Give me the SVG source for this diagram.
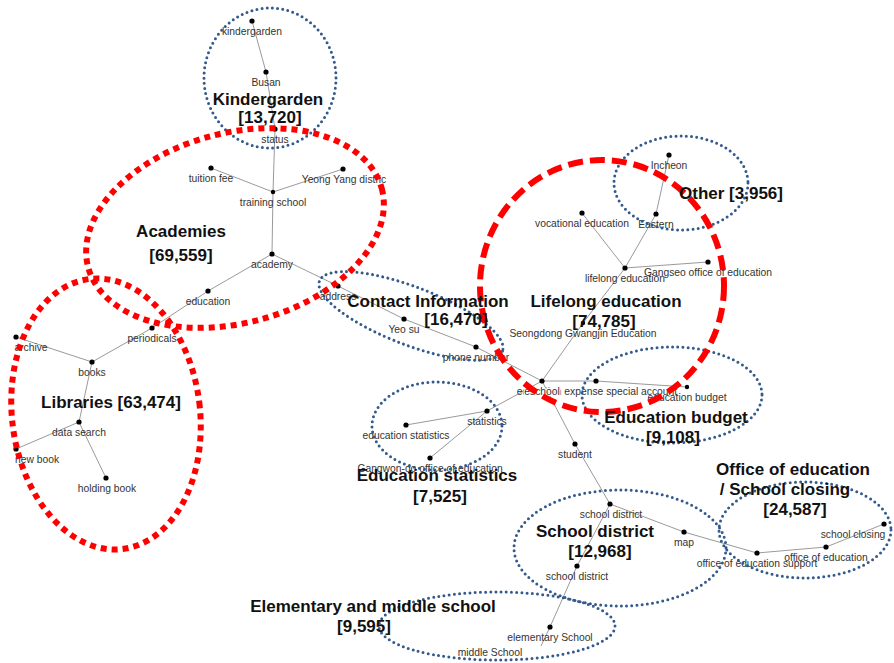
<svg xmlns="http://www.w3.org/2000/svg" width="894" height="663" viewBox="0 0 894 663">
<style>
.e{stroke:#9a9a9a;stroke-width:1;fill:none}
.d{fill:#000}
.l{font-family:"Liberation Sans",Arial,sans-serif;font-size:10.3px;fill:#333;text-anchor:middle}
.b{stroke:#345a8c;stroke-width:3;fill:none;stroke-dasharray:0 5.2;stroke-linecap:round}
.r{stroke:#ff0000;stroke-width:6;fill:none;stroke-dasharray:6 5}
.rd{stroke:#ff0000;stroke-width:6;fill:none;stroke-dasharray:15 7}
.t{font-family:"Liberation Sans",Arial,sans-serif;font-size:17px;font-weight:bold;fill:#111;text-anchor:middle}
</style>
<rect width="894" height="663" fill="#fff"/>
<g id="connectors">
<line class="e" x1="252" y1="21" x2="266" y2="72"/>
<line class="e" x1="266" y1="72" x2="275" y2="129"/>
<line class="e" x1="275" y1="129" x2="273" y2="192"/>
<line class="e" x1="211" y1="168" x2="273" y2="192"/>
<line class="e" x1="343" y1="169" x2="273" y2="192"/>
<line class="e" x1="273" y1="192" x2="272" y2="254"/>
<line class="e" x1="272" y1="254" x2="208" y2="291"/>
<line class="e" x1="272" y1="254" x2="338" y2="286"/>
<line class="e" x1="208" y1="291" x2="152" y2="328"/>
<line class="e" x1="152" y1="328" x2="92" y2="362"/>
<line class="e" x1="16" y1="337" x2="92" y2="362"/>
<line class="e" x1="92" y1="362" x2="79" y2="422"/>
<line class="e" x1="79" y1="422" x2="16" y2="449"/>
<line class="e" x1="79" y1="422" x2="106" y2="478"/>
<line class="e" x1="338" y1="286" x2="404" y2="319"/>
<line class="e" x1="404" y1="319" x2="476" y2="347"/>
<line class="e" x1="476" y1="347" x2="542" y2="381"/>
<line class="e" x1="542" y1="381" x2="583" y2="323"/>
<line class="e" x1="583" y1="323" x2="625" y2="268"/>
<line class="e" x1="625" y1="268" x2="582" y2="213"/>
<line class="e" x1="625" y1="268" x2="656" y2="214"/>
<line class="e" x1="656" y1="214" x2="669" y2="155"/>
<line class="e" x1="625" y1="268" x2="708" y2="262"/>
<line class="e" x1="542" y1="381" x2="596" y2="381"/>
<line class="e" x1="596" y1="381" x2="687" y2="387"/>
<line class="e" x1="542" y1="381" x2="487" y2="411"/>
<line class="e" x1="487" y1="411" x2="406" y2="425"/>
<line class="e" x1="487" y1="411" x2="430" y2="458"/>
<line class="e" x1="542" y1="381" x2="575" y2="444"/>
<line class="e" x1="575" y1="444" x2="610" y2="504"/>
<line class="e" x1="610" y1="504" x2="684" y2="532"/>
<line class="e" x1="684" y1="532" x2="757" y2="553"/>
<line class="e" x1="757" y1="553" x2="826" y2="547"/>
<line class="e" x1="826" y1="547" x2="884" y2="524"/>
<line class="e" x1="610" y1="504" x2="577" y2="566"/>
<line class="e" x1="577" y1="566" x2="550" y2="627"/>
<line class="e" x1="550" y1="627" x2="541" y2="646"/>
</g>
<g id="n_kindergarden"><circle class="d" cx="252" cy="21" r="2.6"/><text class="l" x="252" y="35">kindergarden</text></g>
<g id="n_busan"><circle class="d" cx="266" cy="72" r="2.6"/><text class="l" x="266" y="86">Busan</text></g>
<g id="n_status"><circle class="d" cx="275" cy="129" r="2.6"/><text class="l" x="275" y="143">status</text></g>
<g id="n_tuition_fee"><circle class="d" cx="211" cy="168" r="2.6"/><text class="l" x="211" y="182">tuition fee</text></g>
<g id="n_yeong_yang"><circle class="d" cx="343" cy="169" r="2.6"/><text class="l" x="344" y="183">Yeong Yang distric</text></g>
<g id="n_training_school"><circle class="d" cx="273" cy="192" r="2.2"/><text class="l" x="273" y="206">training school</text></g>
<g id="n_academy"><circle class="d" cx="272" cy="254" r="2.6"/><text class="l" x="272" y="268">academy</text></g>
<g id="n_education"><circle class="d" cx="208" cy="291" r="2.6"/><text class="l" x="208" y="305">education</text></g>
<g id="n_periodicals"><circle class="d" cx="152" cy="328" r="2.6"/><text class="l" x="152" y="342">periodicals</text></g>
<g id="n_archive"><circle class="d" cx="16" cy="337" r="2.6"/><text class="l" x="31" y="351">archive</text></g>
<g id="n_books"><circle class="d" cx="92" cy="362" r="2.6"/><text class="l" x="92" y="376">books</text></g>
<g id="n_data_search"><circle class="d" cx="79" cy="422" r="2.6"/><text class="l" x="79" y="436">data search</text></g>
<g id="n_new_book"><circle class="d" cx="16" cy="449" r="2.6"/><text class="l" x="37" y="463">new book</text></g>
<g id="n_holding_book"><circle class="d" cx="106" cy="478" r="2.6"/><text class="l" x="107" y="492">holding book</text></g>
<g id="n_address"><circle class="d" cx="338" cy="286" r="2.6"/><text class="l" x="338" y="300">address</text></g>
<g id="n_yeo_su"><circle class="d" cx="404" cy="319" r="2.6"/><text class="l" x="404" y="333">Yeo su</text></g>
<g id="n_phone_number"><circle class="d" cx="476" cy="347" r="2.6"/><text class="l" x="476" y="361">phone number</text></g>
<g id="n_expense"><circle class="d" cx="596" cy="381" r="2.6"/><text class="l" x="597" y="395">education expense special account</text></g>
<g id="n_eschool"><circle class="d" cx="542" cy="381" r="2.6"/><text class="l" x="542" y="395" stroke="#fff" stroke-width="2.5" paint-order="stroke">eschool</text></g>
<g id="n_education_budget"><circle class="d" cx="687" cy="387" r="2.2"/><text class="l" x="687" y="401">education budget</text></g>
<g id="n_seongdong"><circle class="d" cx="583" cy="323" r="2.2"/><text class="l" x="583" y="337">Seongdong Gwangjin Education</text></g>
<g id="n_lifelong"><circle class="d" cx="625" cy="268" r="2.6"/><text class="l" x="625" y="282">lifelong education</text></g>
<g id="n_vocational"><circle class="d" cx="582" cy="213" r="2.6"/><text class="l" x="582" y="227">vocational education</text></g>
<g id="n_eastern"><circle class="d" cx="656" cy="214" r="2.6"/><text class="l" x="656" y="228">Eastern</text></g>
<g id="n_incheon"><circle class="d" cx="669" cy="155" r="2.6"/><text class="l" x="669" y="169">Incheon</text></g>
<g id="n_gangseo"><circle class="d" cx="708" cy="262" r="2.6"/><text class="l" x="708" y="276">Gangseo office of education</text></g>
<g id="n_statistics"><circle class="d" cx="487" cy="411" r="2.6"/><text class="l" x="487" y="425">statistics</text></g>
<g id="n_education_statistics"><circle class="d" cx="406" cy="425" r="2.6"/><text class="l" x="406" y="439">education statistics</text></g>
<g id="n_gangwon"><circle class="d" cx="430" cy="458" r="2.6"/><text class="l" x="430" y="472">Gangwon-do office of education</text></g>
<g id="n_student"><circle class="d" cx="575" cy="444" r="2.6"/><text class="l" x="575" y="458">student</text></g>
<g id="n_school_district_1"><circle class="d" cx="610" cy="504" r="2.6"/><text class="l" x="611" y="518">school district</text></g>
<g id="n_map"><circle class="d" cx="684" cy="532" r="2.6"/><text class="l" x="684" y="546">map</text></g>
<g id="n_support"><circle class="d" cx="757" cy="553" r="2.6"/><text class="l" x="757" y="567">office of education support</text></g>
<g id="n_office"><circle class="d" cx="826" cy="547" r="2.6"/><text class="l" x="826" y="561">office of education</text></g>
<g id="n_school_closing"><circle class="d" cx="884" cy="524" r="2.6"/><text class="l" x="853" y="538">school closing</text></g>
<g id="n_school_district_2"><circle class="d" cx="577" cy="566" r="2.6"/><text class="l" x="577" y="580">school district</text></g>
<g id="n_elementary"><circle class="d" cx="550" cy="627" r="2.6"/><text class="l" x="550" y="641">elementary School</text></g>
<g id="n_middle"><text class="l" x="490" y="656">middle School</text></g>
<g id="clusters">
<ellipse class="b" cx="270" cy="78" rx="66" ry="70"/>
<ellipse class="b" cx="681" cy="183" rx="67" ry="47"/>
<ellipse class="b" cx="411" cy="316" rx="98" ry="29" transform="rotate(21 411 316)"/>
<ellipse class="b" cx="437" cy="426" rx="65" ry="44"/>
<ellipse class="b" cx="672" cy="395" rx="90" ry="48"/>
<ellipse class="b" cx="620" cy="548" rx="106" ry="58"/>
<ellipse class="b" cx="805" cy="530" rx="86" ry="48"/>
<ellipse class="b" cx="497" cy="626" rx="118" ry="34"/>
<ellipse class="r" cx="235" cy="228" rx="152" ry="95" transform="rotate(-15 235 228)"/>
<ellipse class="r" cx="106" cy="414" rx="94" ry="136" transform="rotate(-7 106 414)"/>
<ellipse class="rd" cx="602" cy="286" rx="122" ry="126"/>
</g>
<g id="titles">
<text class="t" x="268" y="105">Kindergarden</text>
<text class="t" x="270" y="123">[13,720]</text>
<text class="t" x="181" y="237">Academies</text>
<text class="t" x="181" y="261">[69,559]</text>
<text class="t" x="111" y="408">Libraries  [63,474]</text>
<text class="t" x="428" y="307">Contact Information</text>
<text class="t" x="456" y="325">[16,470]</text>
<text class="t" x="606" y="307">Lifelong education</text>
<text class="t" x="604" y="327">[74,785]</text>
<text class="t" x="731" y="199">Other [3,956]</text>
<text class="t" x="676" y="423">Education budget</text>
<text class="t" x="673" y="443">[9,108]</text>
<text class="t" x="437" y="481">Education statistics</text>
<text class="t" x="440" y="502">[7,525]</text>
<text class="t" x="793" y="475">Office of education</text>
<text class="t" x="785" y="495">/ School closing</text>
<text class="t" x="795" y="515">[24,587]</text>
<text class="t" x="595" y="537">School district</text>
<text class="t" x="600" y="557">[12,968]</text>
<text class="t" x="373" y="612">Elementary and middle school</text>
<text class="t" x="364" y="632">[9,595]</text>
</g>
</svg>
